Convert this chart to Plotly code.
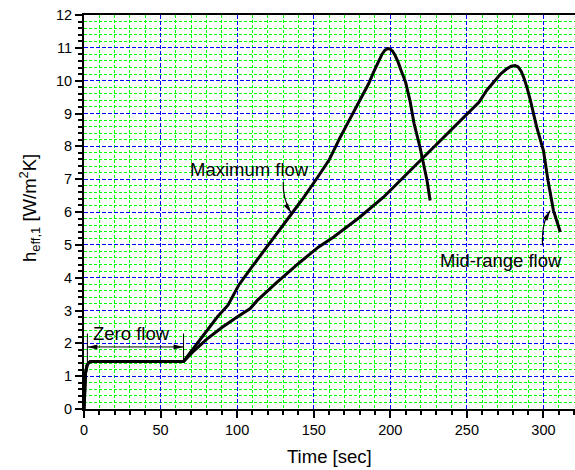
import plotly.graph_objects as go

# ---- data ----
max_x = [0, 0.5, 1, 2, 3, 4, 6, 65, 72, 80, 87, 94, 101, 110, 120, 129, 136, 142, 152,
         160, 167, 176, 181.5, 186, 189, 192, 194.5, 196.5, 198.5, 200, 201.5, 203, 205,
         207, 210, 213, 215.5, 219.5, 222, 224, 226]
max_y = [0, 0.75, 1.1, 1.33, 1.41, 1.44, 1.45, 1.45, 1.88, 2.38, 2.8, 3.16, 3.77, 4.35,
         4.98, 5.52, 5.97, 6.35, 7.02, 7.58, 8.25, 9.05, 9.5, 9.92, 10.25, 10.58, 10.8,
         10.93, 10.98, 10.96, 10.9, 10.78, 10.58, 10.32, 9.95, 9.35, 8.7, 7.95, 7.45,
         6.95, 6.35]

mid_x = [0, 0.5, 1, 2, 3, 4, 6, 65, 72, 80, 90, 100, 108.5, 113, 125, 141, 153, 163, 180,
         195.5, 206.5, 220, 239, 258, 263, 268, 272, 276, 279, 281.5, 283.5, 285.5, 287.5,
         289.5, 291.5, 295.5, 300, 303, 306.5, 311]
mid_y = [0, 0.75, 1.1, 1.33, 1.41, 1.44, 1.45, 1.45, 1.78, 2.12, 2.48, 2.8, 3.06, 3.3,
         3.82, 4.47, 4.93, 5.24, 5.84, 6.45, 6.96, 7.6, 8.48, 9.35, 9.71, 10.0, 10.2,
         10.36, 10.44, 10.46, 10.42, 10.28, 10.05, 9.75, 9.4, 8.6, 7.87, 6.95, 6.05, 5.39]

x_range = [0, 320.6]
y_range = [0, 12]
x_major, x_minor = 50, 10
y_major, y_minor = 1, 0.2

labels = ["Maximum flow", "Mid-range flow", "Zero flow"]
x_title = "Time [sec]"
y_title = "h<sub>eff,1</sub> [W/m<sup>2</sup>K]"

FONT = "Liberation Sans, Arial, Helvetica, sans-serif"

fig = go.Figure()
for xs, ys in [(max_x, max_y), (mid_x, mid_y)]:
    fig.add_trace(go.Scatter(x=xs, y=ys, mode="lines", hoverinfo="skip",
                             line=dict(color="black", width=3)))

axis_common = dict(
    ticks="outside", ticklen=7, tickwidth=1.5, tickcolor="black",
    showline=True, linewidth=2, linecolor="black",
    showgrid=True, gridcolor="#0000ff", gridwidth=1, griddash="4px,2px",
    zeroline=False, automargin=False,
    tickfont=dict(family=FONT, size=14.5, color="black"),
)

fig.update_layout(
    width=575, height=470,
    margin=dict(l=84, r=0, t=15, b=61, autoexpand=False),
    paper_bgcolor="white", plot_bgcolor="white",
    showlegend=False,
    font=dict(family=FONT, size=14.5, color="black"),
    xaxis=dict(range=x_range, tick0=0, dtick=x_major, mirror=True,
               minor=dict(dtick=x_minor, ticks="outside", ticklen=4, tickwidth=1.5,
                          tickcolor="black", showgrid=True, gridcolor="#00ff00",
                          gridwidth=1, griddash="3px,2px"),
               **axis_common),
    yaxis=dict(range=y_range, tick0=0, dtick=y_major, mirror=False,
               minor=dict(dtick=y_minor, ticks="outside", ticklen=4, tickwidth=1.5,
                          tickcolor="black", showgrid=True, gridcolor="#00ff00",
                          gridwidth=1, griddash="3px,2px"),
               **axis_common),
)

ann_font = dict(family=FONT, size=18.5, color="black")
fig.add_annotation(x=108.2, y=7.29, xref="x", yref="y", text=labels[0], showarrow=False,
                   font=ann_font, xanchor="center", yanchor="middle")
fig.add_annotation(x=272.2, y=4.52, xref="x", yref="y", text=labels[1], showarrow=False,
                   font=ann_font, xanchor="center", yanchor="middle")
fig.add_annotation(x=31.1, y=2.31, xref="x", yref="y", text=labels[2], showarrow=False,
                   font=ann_font, xanchor="center", yanchor="middle")

# axis titles
fig.add_annotation(x=0.5, y=0, xref="paper", yref="paper", text=x_title, showarrow=False,
                   font=ann_font, xanchor="center", yanchor="middle", yshift=-47)
fig.add_annotation(x=0, y=0.5, xref="paper", yref="paper", text=y_title, showarrow=False,
                   font=ann_font, textangle=-90, xanchor="center", yanchor="middle",
                   xshift=-55, yshift=4)

# zero-flow dimension arrow
fig.add_shape(type="line", xref="x", yref="y", x0=2.2, x1=2.2, y0=1.43, y1=2.3,
              line=dict(color="black", width=1))
fig.add_shape(type="line", xref="x", yref="y", x0=65, x1=65, y0=1.45, y1=2.3,
              line=dict(color="black", width=1))
fig.add_shape(type="line", xref="x", yref="y", x0=2.2, x1=65, y0=1.89, y1=1.89,
              line=dict(color="black", width=1))
head = dict(type="path", xref="x", yref="y", xsizemode="pixel", ysizemode="pixel",
            fillcolor="black", line=dict(width=0))
fig.add_shape(xanchor=2.2, yanchor=1.89, path="M0,0 L10,2.5 L10,-2.5 Z", **head)
fig.add_shape(xanchor=65, yanchor=1.89, path="M0,0 L-10,2.5 L-10,-2.5 Z", **head)

# curved pointer arrows
fig.add_shape(type="path", xref="x", yref="y",
              path="M 130.1,6.91 Q 129.6,6.4 135.3,5.97",
              line=dict(color="black", width=1.2))
fig.add_shape(xanchor=135.3, yanchor=5.97, path="M0,0 L-3.2,9.8 L-7.4,7.2 Z", **head)

fig.add_shape(type="path", xref="x", yref="y",
              path="M 299.4,4.98 Q 298.7,5.7 304.4,6.04",
              line=dict(color="black", width=1.2))
fig.add_shape(xanchor=304.4, yanchor=6.04, path="M0,0 L-2.8,-9.95 L-7.2,-7.45 Z", **head)

fig.write_html("out.html", config={"displayModeBar": False},
               post_script="document.body.style.margin='0';"
                           "document.body.style.overflow='hidden';")
